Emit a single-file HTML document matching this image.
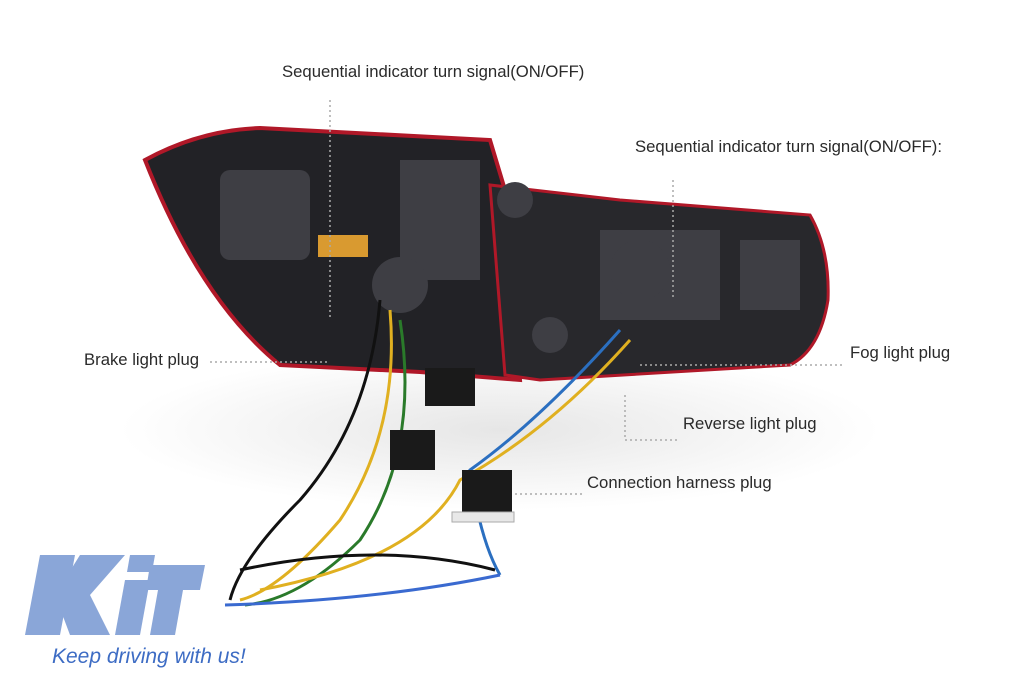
<!DOCTYPE html>
<html><head><meta charset="utf-8"><style>
body{margin:0;width:1024px;height:682px;background:#fff;overflow:hidden;position:relative;font-family:"Liberation Sans",sans-serif}
.l{position:absolute;font-size:16.7px;color:#2a2a2a;white-space:nowrap;font-weight:500}
</style></head><body>
<svg width="1024" height="682" style="position:absolute;left:0;top:0">
<defs><radialGradient id="sh" cx="50%" cy="50%" r="50%"><stop offset="0" stop-color="#e6e6e6"/><stop offset="1" stop-color="#fff"/></radialGradient></defs>
<ellipse cx="500" cy="430" rx="380" ry="80" fill="url(#sh)"/>
<path d="M145,160 Q200,130 260,128 L490,140 L505,190 L520,380 L420,372 L280,365 Q200,300 145,160Z" fill="#222226" stroke="#b01828" stroke-width="4"/>
<path d="M490,185 L620,200 L810,215 Q830,250 828,300 Q820,350 790,365 L540,380 L505,375Z" fill="#28282c" stroke="#b01828" stroke-width="3"/>
<g fill="#3e3e44">
<rect x="220" y="170" width="90" height="90" rx="10"/><rect x="400" y="160" width="80" height="120"/>
<rect x="600" y="230" width="120" height="90"/><rect x="740" y="240" width="60" height="70"/>
<circle cx="640" cy="270" r="30"/><circle cx="400" cy="285" r="28"/>
<circle cx="515" cy="200" r="18"/><circle cx="550" cy="335" r="18"/>
</g>
<rect x="318" y="235" width="50" height="22" fill="#d99a30"/>
<g fill="none" stroke-width="3">
<path d="M380,300 Q370,420 300,500 Q240,560 230,600" stroke="#111"/>
<path d="M390,310 Q400,430 340,520 Q280,590 240,600" stroke="#e0b020"/>
<path d="M400,320 Q420,450 360,540 Q300,600 245,605" stroke="#2a7a2a"/>
<path d="M620,330 Q540,420 470,470 Q480,540 500,575" stroke="#2b6fc0"/>
<path d="M630,340 Q550,430 460,480 Q420,560 260,590" stroke="#e0b020"/>
<path d="M225,605 Q380,600 500,575" stroke="#3a6ad0"/>
<path d="M240,570 Q380,540 495,570" stroke="#111"/>
</g>
<rect x="425" y="368" width="50" height="38" fill="#1a1a1a"/>
<rect x="390" y="430" width="45" height="40" fill="#1a1a1a"/>
<rect x="462" y="470" width="50" height="45" fill="#1a1a1a"/>
<rect x="452" y="512" width="62" height="10" fill="#e8e8e8" stroke="#aaa"/>
<g stroke="#aaa" stroke-width="1.5" stroke-dasharray="2,3" fill="none">
<path d="M330,100 V320"/><path d="M673,180 V300"/>
<path d="M210,362 H330"/><path d="M640,365 H845"/>
<path d="M625,395 V440 H680"/><path d="M515,494 H582"/>
</g>
<g fill="#8aa6d8">
<polygon points="40,555 75,555 60,635 25,635"/>
<polygon points="80,555 125,555 90,595 110,635 70,635 55,595"/>
<polygon points="125,580 150,580 140,635 115,635"/>
<polygon points="130,555 155,555 152,572 127,572"/>
<polygon points="150,565 205,565 200,590 183,590 175,635 150,635 158,590 146,590"/>
</g>
</svg>
<div class="l" style="left:282px;top:62px">Sequential indicator turn signal(ON/OFF)</div>
<div class="l" style="left:635px;top:137px">Sequential indicator turn signal(ON/OFF):</div>
<div class="l" style="left:84px;top:350px">Brake light plug</div>
<div class="l" style="left:850px;top:343px">Fog light plug</div>
<div class="l" style="left:683px;top:414px">Reverse light plug</div>
<div class="l" style="left:587px;top:473px">Connection harness plug</div>
<div class="l" style="left:52px;top:645px;font-size:21px;font-style:italic;color:#3d6cc4">Keep driving with us!</div>
</body></html>
